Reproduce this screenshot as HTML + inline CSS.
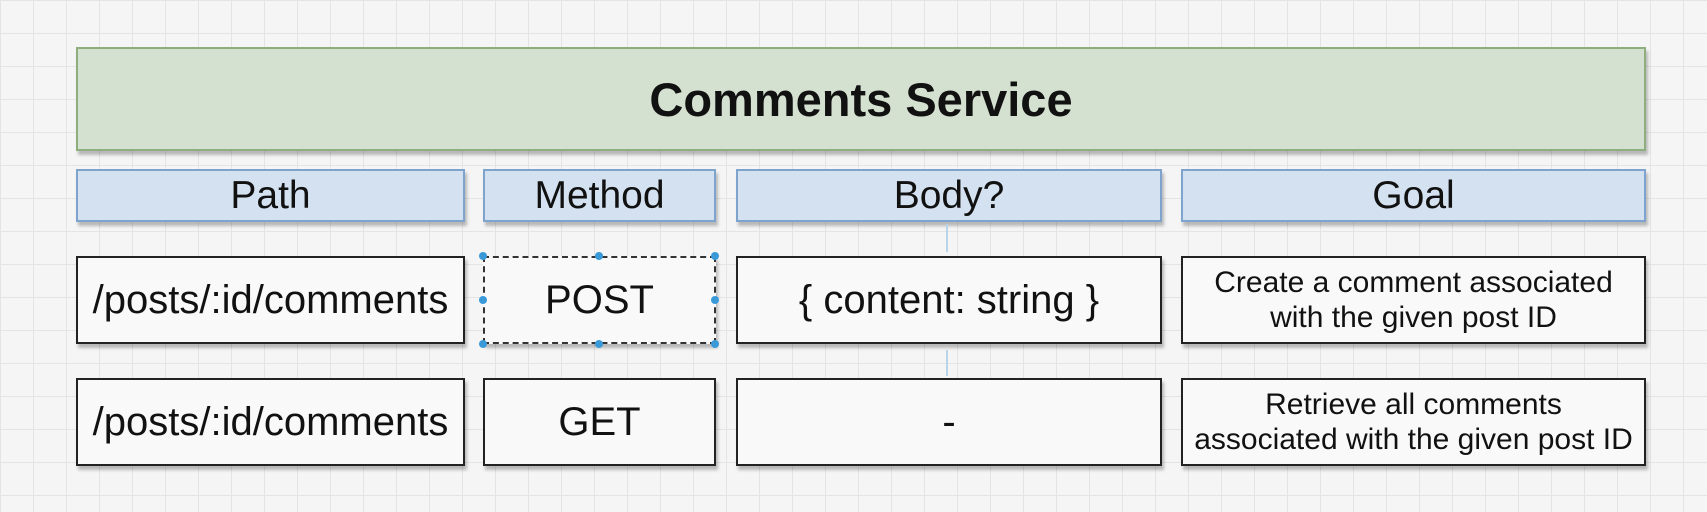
<!DOCTYPE html>
<html><head><style>
body{margin:0;width:1707px;height:512px;overflow:hidden;background:#f5f5f5;
background-image:linear-gradient(#e4e4e4 1px,transparent 1px),linear-gradient(90deg,#e4e4e4 1px,transparent 1px);
background-size:33px 33px;font-family:"Liberation Sans",sans-serif;position:relative}
.b{position:absolute;box-sizing:border-box;display:flex;align-items:center;justify-content:center;text-align:center;color:#111;box-shadow:2px 4px 3px rgba(0,0,0,0.25);white-space:nowrap}
.t{background:#d5e1d0;border:2px solid #8fae7e;font-weight:bold;font-size:47px}
.h{background:#d4e1f0;border:2px solid #7ea3cc;font-size:39px;top:169px;height:53px}
.c{background:#f9f9f9;border:2px solid #222;font-size:40px;height:88px}
.g{font-size:30px;line-height:35px}
.dot{position:absolute;width:8px;height:8px;border-radius:50%;background:#3a9ad9}
</style></head><body>
<div class="b t" style="left:76px;top:47px;width:1570px;height:104px">Comments Service</div>
<div class="b h" style="left:76px;width:389px">Path</div>
<div class="b h" style="left:483px;width:233px">Method</div>
<div class="b h" style="left:736px;width:426px">Body?</div>
<div class="b h" style="left:1181px;width:465px">Goal</div>

<div class="b c" style="left:76px;top:256px;width:389px">/posts/:id/comments</div>
<div class="b c" style="left:483px;top:256px;width:233px;border:2px dashed #333">POST</div>
<div class="b c" style="left:736px;top:256px;width:426px">{ content: string }</div>
<div class="b c g" style="left:1181px;top:256px;width:465px">Create a comment associated<br>with the given post ID</div>

<div class="b c" style="left:76px;top:378px;width:389px">/posts/:id/comments</div>
<div class="b c" style="left:483px;top:378px;width:233px">GET</div>
<div class="b c" style="left:736px;top:378px;width:426px">-</div>
<div class="b c g" style="left:1181px;top:378px;width:465px">Retrieve all comments<br>associated with the given post ID</div>

<div class="dot" style="left:479px;top:252px"></div>
<div class="dot" style="left:595px;top:252px"></div>
<div class="dot" style="left:711px;top:252px"></div>
<div class="dot" style="left:479px;top:296px"></div>
<div class="dot" style="left:711px;top:296px"></div>
<div class="dot" style="left:479px;top:340px"></div>
<div class="dot" style="left:595px;top:340px"></div>
<div class="dot" style="left:711px;top:340px"></div>
<div style="position:absolute;left:946px;top:224px;width:2px;height:28px;background:#b8d4ea"></div>
<div style="position:absolute;left:946px;top:350px;width:2px;height:26px;background:#b8d4ea"></div>
</body></html>
